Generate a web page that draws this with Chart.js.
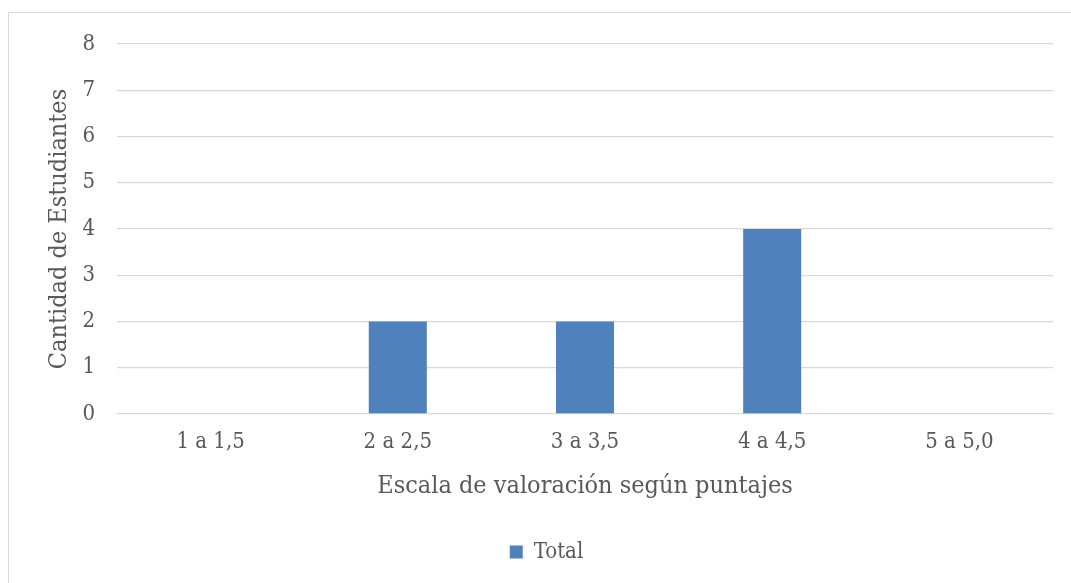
<!DOCTYPE html>
<html>
<head>
<meta charset="utf-8">
<script src="https://cdn.jsdelivr.net/npm/chart.js@4/dist/chart.umd.min.js"></script>
<style>
  html, body { margin: 0; padding: 0; background: #ffffff; }
  #wrap { position: relative; width: 1071px; height: 583px; overflow: hidden; }
  #frame { position: absolute; left: 8px; top: 12px; width: 1100px; height: 620px;
           border: 1px solid #d9d9d9; box-sizing: border-box; }
  #c { position: absolute; left: 0; top: 0; }
</style>
</head>
<body>
<div id="wrap">
  <div id="frame"></div>
  <canvas id="c" width="1071" height="583"></canvas>
</div>
<script>
// Score bands and number of students in each
const categories = ['1 a 1,5', '2 a 2,5', '3 a 3,5', '4 a 4,5', '5 a 5,0'];
const totals = [0, 2, 2, 4, 0];
const seriesName = 'Total';
const yTitle = 'Cantidad de Estudiantes';
const xTitle = 'Escala de valoración según puntajes';

const FONT = "'DejaVu Serif Condensed', 'Liberation Serif', serif";
const TEXT = '#595959';
const GRID = '#d9d9d9';
const BAR = '#4f81bd';

new Chart(document.getElementById('c'), {
  type: 'bar',
  data: {
    labels: categories,
    datasets: [{
      label: seriesName,
      data: totals,
      backgroundColor: BAR,
      borderWidth: 0,
      barPercentage: 0.31,
      categoryPercentage: 1.0
    }]
  },
  options: {
    responsive: false,
    animation: false,
    layout: { padding: { left: 40, right: 18, top: 44, bottom: 10 } },
    plugins: {
      tooltip: { enabled: false },
      legend: {
        position: 'bottom',
        labels: {
          color: TEXT,
          font: { family: FONT, size: 22 },
          boxWidth: 13,
          boxHeight: 13,
          padding: 10
        }
      }
    },
    scales: {
      x: {
        grid: { display: false },
        border: { display: false },
        ticks: { color: TEXT, font: { family: FONT, size: 22 }, padding: 7, maxRotation: 0 },
        title: { display: true, text: xTitle, color: TEXT,
                 font: { family: FONT, size: 25 }, padding: { top: 0, bottom: 30 } },
        afterFit(scale) { scale.height = 117; }
      },
      y: {
        min: 0, max: 8,
        grid: { color: GRID, lineWidth: 1.3, drawTicks: false },
        border: { display: false },
        ticks: { stepSize: 1, color: TEXT, font: { family: FONT, size: 22 }, padding: 22 },
        title: { display: true, text: yTitle, color: TEXT,
                 font: { family: FONT, size: 25 }, padding: { top: 4, bottom: 0 } },
        afterFit(scale) { scale.width = 77; }
      }
    }
  }
});
</script>
</body>
</html>
